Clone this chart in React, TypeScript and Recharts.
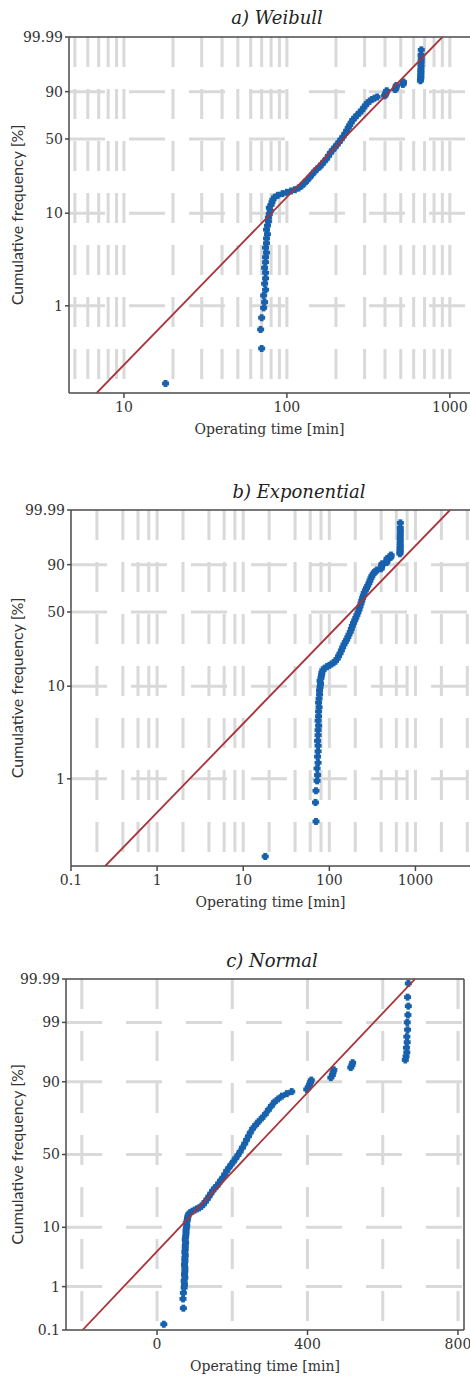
import React from 'react';
import { ScatterChart, Scatter, XAxis, YAxis, CartesianGrid, ReferenceLine } from 'recharts';

// operating times [min] with their cumulative frequency [%], sorted
const times = [
  18, 70, 69, 70, 72, 73, 72, 74, 73, 74, 74, 73, 74, 74, 75, 74, 75, 75, 76, 75,
  76, 77, 77, 78, 79, 78, 80, 81, 82, 84, 88, 94, 100, 106, 112, 118, 123, 128, 133, 138,
  143, 148, 153, 159, 164, 169, 175, 180, 185, 191, 197, 203, 209, 215, 221, 227, 233, 238, 243, 248,
  254, 262, 270, 279, 288, 296, 304, 312, 322, 332, 345, 358, 398, 402, 405, 408, 410, 462, 466, 468,
  470, 515, 518, 520, 660, 662, 664, 663, 665, 664, 666, 665, 667, 668, 666, 668,
];
const cumFreq = [
  0.14, 0.34, 0.55, 0.74, 0.95, 1.1, 1.3, 1.5, 1.75, 2.0, 2.3, 2.6, 3.0, 3.4, 3.8, 4.3, 4.8, 5.4, 6.0, 6.7,
  7.4, 8.2, 9.0, 9.8, 10.6, 11.4, 12.2, 13.0, 13.8, 14.6, 15.3, 15.9, 16.4, 16.9, 17.4, 18.1, 19.0, 20.2, 21.5, 23.0,
  24.6, 26.2, 27.6, 29.0, 30.6, 32.3, 34.2, 36.3, 38.6, 40.8, 42.9, 45.0, 47.3, 49.6, 52.0, 54.8, 57.6, 60.2, 62.6, 65.0,
  67.5, 69.8, 71.9, 74.0, 76.2, 78.4, 80.4, 82.2, 83.6, 84.8, 85.8, 86.6, 87.4, 88.2, 89.0, 89.8, 90.5, 91.2, 91.9, 92.6,
  93.2, 93.7, 94.2, 94.7, 95.2, 95.8, 96.4, 97.0, 97.6, 98.1, 98.6, 99.0, 99.3, 99.55, 99.72, 99.87,
];

// fitted distributions, two points each (time, cumulative frequency %)
const weibullFitTimes = [6.8, 900];
const weibullFitFreq = [0.11, 99.99];
const expFitTimes = [0.25, 2520];
const expFitFreq = [0.11, 99.99];
const normalFitTimes = [-198, 686];
const normalFitFreq = [0.1, 99.9];

// axes
const logFreqRange = [0.11, 99.99];
const logFreqTicks = [1, 10, 50, 90, 99.99];
const logFreqLabels = ['1', '10', '50', '90', '99.99'];
const normalFreqRange = [0.1, 99.9];
const normalFreqTicks = [0.1, 1, 10, 50, 90, 99, 99.9];
const normalFreqLabels = ['0.1', '1', '10', '50', '90', '99', '99.99'];

const weibullTimeTicks = [10, 100, 1000];
const weibullTimeGrid = [5, 6, 7, 8, 9, 10, 20, 30, 40, 50, 60, 70, 80, 90, 100, 200, 300, 400, 500, 600, 700, 800, 900, 1000];
const expTimeTicks = [0.1, 1, 10, 100, 1000];
const expTimeGrid = [0.2, 0.4, 0.6, 0.8, 1, 2, 4, 6, 8, 10, 20, 40, 60, 80, 100, 200, 400, 600, 800, 1000, 2000, 4000];
const normalTimeTicks = [0, 400, 800];
const normalTimeGrid = [-200, 0, 200, 400, 600, 800];

const BLUE = '#1761ad';
const RED = '#a8343a';
const GRID = '#d9d9d9';
const AXIS = '#4a4a4a';
const SERIF = '"DejaVu Serif", serif';

const weibullY = (f: number) => Math.log(-Math.log(1 - f / 100));

const invNorm = (p: number) => {
  const a = [-39.69683028665376, 220.9460984245205, -275.9285104469687, 138.357751867269, -30.66479806614716, 2.506628277459239];
  const b = [-54.47609879822406, 161.5858368580409, -155.6989798598866, 66.80131188771972, -13.28068155288572];
  const c = [-0.007784894002430293, -0.3223964580411365, -2.400758277161838, -2.549732539343734, 4.374664141464968, 2.938163982698783];
  const d = [0.007784695709041462, 0.3224671290700398, 2.445134137142996, 3.754408661907416];
  const tail = (q: number) =>
    (((((c[0] * q + c[1]) * q + c[2]) * q + c[3]) * q + c[4]) * q + c[5]) / ((((d[0] * q + d[1]) * q + d[2]) * q + d[3]) * q + 1);
  if (p < 0.02425) return tail(Math.sqrt(-2 * Math.log(p)));
  if (p > 1 - 0.02425) return -tail(Math.sqrt(-2 * Math.log(1 - p)));
  const q = p - 0.5;
  const r = q * q;
  return ((((((a[0] * r + a[1]) * r + a[2]) * r + a[3]) * r + a[4]) * r + a[5]) * q) /
    (((((b[0] * r + b[1]) * r + b[2]) * r + b[3]) * r + b[4]) * r + 1);
};
const normalY = (f: number) => invNorm(f / 100);

const Marker = (props: any) => {
  const { cx, cy } = props;
  if (cx == null || cy == null) return <g />;
  return (
    <g fill={BLUE}>
      <rect x={cx - 3.5} y={cy - 1.9} width={7} height={3.8} />
      <rect x={cx - 1.9} y={cy - 3.5} width={3.8} height={7} />
    </g>
  );
};

// grid positions through the axis' own scale
const gridFrom = (axis: any, values: number[]) => {
  const s = axis && axis.scale;
  if (!s) return [];
  const f = typeof s === 'function' ? s : typeof s.map === 'function' ? (v: number) => s.map(v) : null;
  if (!f) return [];
  return values.map((v) => f(v)).filter((v) => Number.isFinite(v));
};

type PanelProps = {
  top: number;
  height: number;
  yWidth: number;
  right: number;
  logX: boolean;
  xDomain: number[];
  xTicks: number[];
  xGrid: number[];
  tf: (f: number) => number;
  freqRange: number[];
  freqTicks: number[];
  freqLabels: string[];
  fitTimes: number[];
  fitFreq: number[];
  box: boolean;
};

function Panel(p: PanelProps) {
  const points = times.map((t, i) => ({ x: t, y: p.tf(cumFreq[i]) }));
  const fit = p.fitTimes.map((t, i) => ({ x: t, y: p.tf(p.fitFreq[i]) }));
  const yDomain = [p.tf(p.freqRange[0]), p.tf(p.freqRange[1])];
  const yTicks = p.freqTicks.map(p.tf);
  const yGrid = p.freqTicks.filter((f) => f > 0.5 && f < 99.5).map(p.tf);
  const label = (v: number) => {
    const i = yTicks.findIndex((t) => Math.abs(t - v) < 1e-6);
    return i >= 0 ? p.freqLabels[i] : '';
  };
  return (
    <div style={{ position: 'absolute', left: 0, top: p.top }}>
      <ScatterChart width={470} height={p.height} margin={{ top: 37, right: p.right, bottom: 0, left: 0 }}>
        <CartesianGrid
          horizontal={false}
          stroke={GRID}
          strokeWidth={3}
          strokeDasharray="30 22"
          verticalValues={p.xGrid}
          verticalCoordinatesGenerator={(args: any) => gridFrom(args && args.xAxis, p.xGrid)}
        />
        <CartesianGrid
          vertical={false}
          stroke={GRID}
          strokeWidth={3}
          strokeDasharray="36 24"
          horizontalValues={yGrid}
          horizontalCoordinatesGenerator={(args: any) => gridFrom(args && args.yAxis, yGrid)}
        />
        <XAxis
          type="number"
          dataKey="x"
          scale={p.logX ? 'log' : 'linear'}
          domain={p.xDomain}
          allowDataOverflow
          ticks={p.xTicks}
          interval={0}
          height={57}
          tickSize={5}
          tickMargin={4}
          stroke={AXIS}
          strokeWidth={1.5}
          tick={{ fontFamily: SERIF, fontSize: 14, fill: '#333' }}
          label={{ value: 'Operating time [min]', position: 'insideBottom', offset: 16, fontFamily: SERIF, fontSize: 14, fill: '#333' }}
        />
        <YAxis
          type="number"
          dataKey="y"
          domain={yDomain}
          allowDataOverflow
          ticks={yTicks}
          interval={0}
          width={p.yWidth}
          tickSize={4}
          tickMargin={2}
          stroke={AXIS}
          strokeWidth={1.5}
          tickFormatter={label}
          tick={{ fontFamily: SERIF, fontSize: 14, fill: '#333' }}
          label={{
            value: 'Cumulative frequency [%]',
            angle: -90,
            position: 'insideLeft',
            offset: 17,
            textAnchor: 'middle',
            fontFamily: 'Lato, sans-serif',
            fontSize: 16,
            fill: '#333',
          }}
        />
        <Scatter data={points} shape={<Marker />} isAnimationActive={false} />
        <Scatter data={fit} fill={RED} line={{ stroke: RED, strokeWidth: 1.8 }} shape={() => <g />} isAnimationActive={false} />
        <ReferenceLine y={yDomain[1]} stroke={AXIS} strokeWidth={1.5} />
        {p.box && <ReferenceLine x={p.xDomain[1]} stroke={AXIS} strokeWidth={1.5} />}
      </ScatterChart>
    </div>
  );
}

const Title = ({ text, cx, top }: { text: string; cx: number; top: number }) => (
  <div
    style={{
      position: 'absolute',
      left: cx - 150,
      width: 300,
      top,
      textAlign: 'center',
      fontFamily: SERIF,
      fontStyle: 'italic',
      fontSize: 18,
      lineHeight: '20px',
      color: '#222',
    }}
  >
    {text}
  </div>
);

export default function App() {
  return (
    <div style={{ position: 'absolute', left: 0, top: 0, width: 470, height: 1377, background: '#fff', overflow: 'hidden' }}>
      <Panel
        top={0}
        height={450}
        yWidth={69}
        right={0}
        logX
        xDomain={[4.6, 1330]}
        xTicks={weibullTimeTicks}
        xGrid={weibullTimeGrid}
        tf={weibullY}
        freqRange={logFreqRange}
        freqTicks={logFreqTicks}
        freqLabels={logFreqLabels}
        fitTimes={weibullFitTimes}
        fitFreq={weibullFitFreq}
        box={false}
      />
      <Panel
        top={473}
        height={450}
        yWidth={71}
        right={0}
        logX
        xDomain={[0.1, 4300]}
        xTicks={expTimeTicks}
        xGrid={expTimeGrid}
        tf={weibullY}
        freqRange={logFreqRange}
        freqTicks={logFreqTicks}
        freqLabels={logFreqLabels}
        fitTimes={expFitTimes}
        fitFreq={expFitFreq}
        box={false}
      />
      <Panel
        top={942}
        height={445}
        yWidth={66}
        right={6}
        logX={false}
        xDomain={[-242, 816]}
        xTicks={normalTimeTicks}
        xGrid={normalTimeGrid}
        tf={normalY}
        freqRange={normalFreqRange}
        freqTicks={normalFreqTicks}
        freqLabels={normalFreqLabels}
        fitTimes={normalFitTimes}
        fitFreq={normalFitFreq}
        box
      />
      <Title text="a) Weibull" cx={277} top={8} />
      <Title text="b) Exponential" cx={299} top={482} />
      <Title text="c) Normal" cx={272} top={951} />
    </div>
  );
}
